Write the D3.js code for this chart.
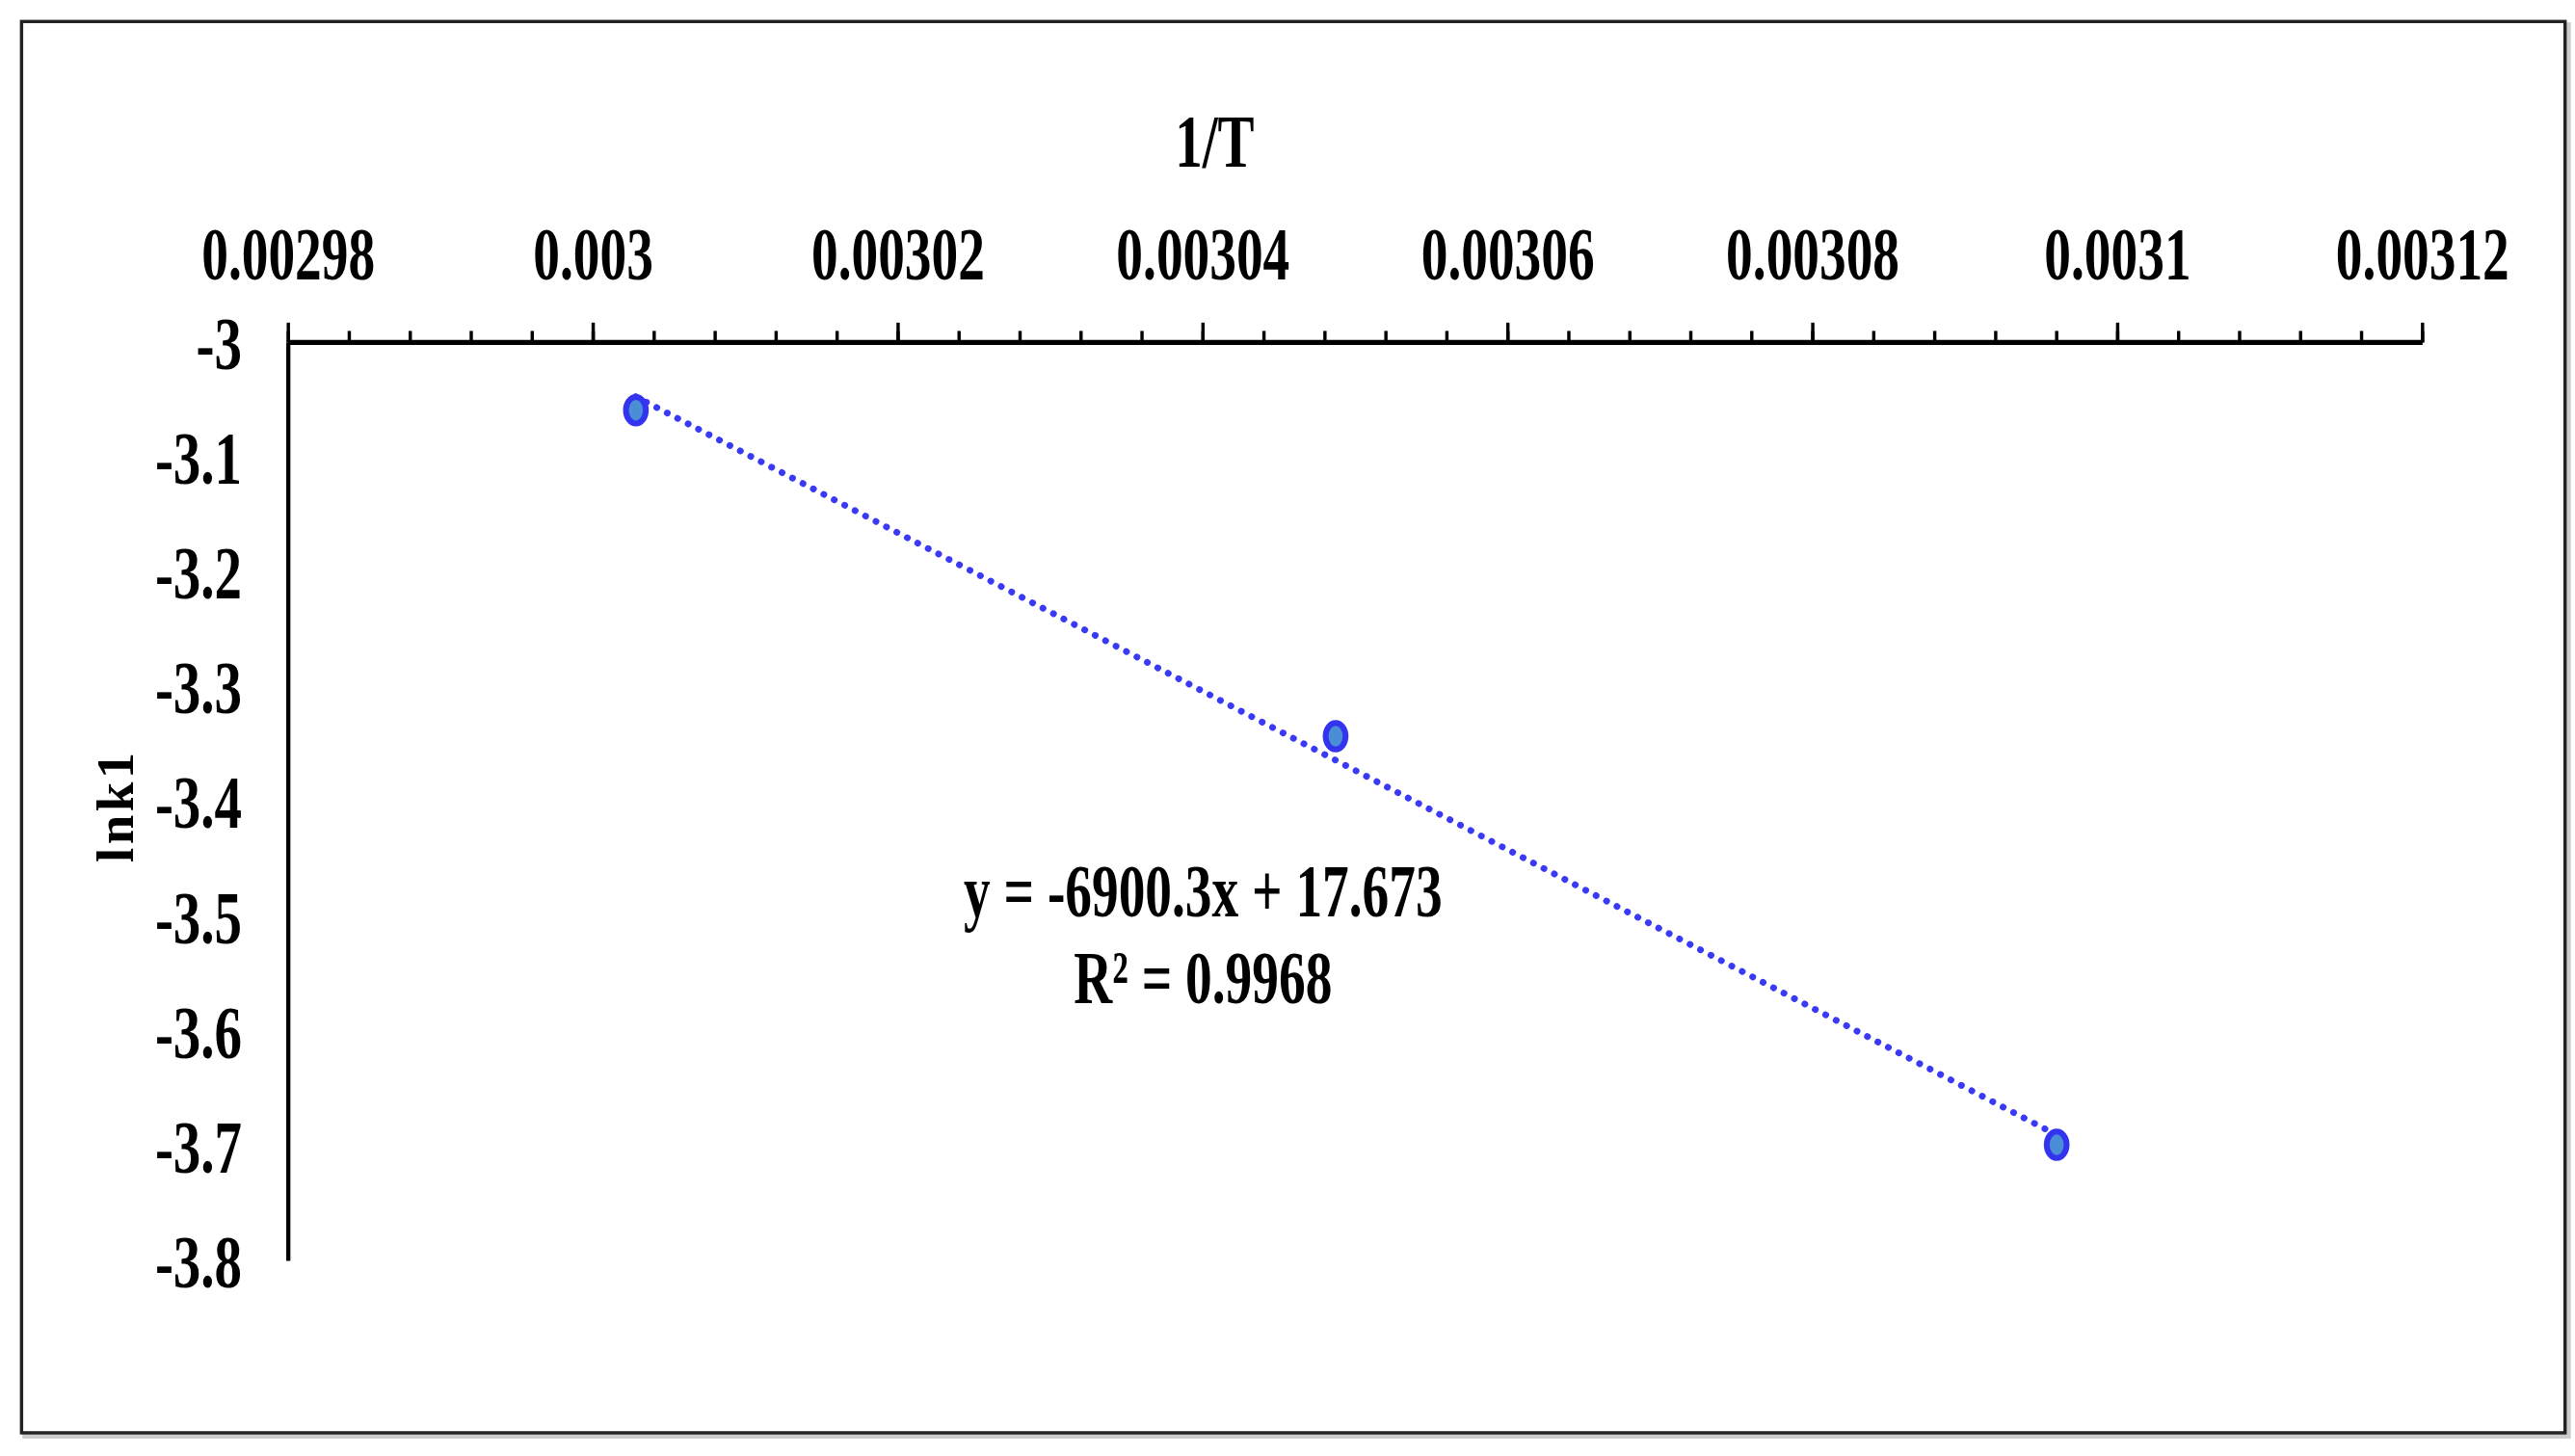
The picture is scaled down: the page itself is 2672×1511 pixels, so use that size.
<!DOCTYPE html>
<html>
<head>
<meta charset="utf-8">
<script src="https://cdn.jsdelivr.net/npm/d3@7"></script>
<style>
  body { margin: 0; background: #fff; }
  text { font-family: "Liberation Serif", "Times New Roman", serif; font-weight: bold; fill: #000; }
</style>
</head>
<body>
<svg id="chart" width="2672" height="1511" viewBox="0 0 1554 880" preserveAspectRatio="none"></svg>
<script>
// data
var invT = [0.0030028, 0.0030487, 0.003096];
var lnk1 = [-3.059, -3.343, -3.699];
var xTicks = [0.00298, 0.003, 0.00302, 0.00304, 0.00306, 0.00308, 0.0031, 0.00312];
var xTickLabels = ["0.00298", "0.003", "0.00302", "0.00304", "0.00306", "0.00308", "0.0031", "0.00312"];
var yTicks = [-3, -3.1, -3.2, -3.3, -3.4, -3.5, -3.6, -3.7, -3.8];
var slope = -6900.3, intercept = 17.673;
var eqLines = ["y = -6900.3x + 17.673", "R\u00b2 = 0.9968"];

var svg = d3.select("#chart");

// frame
svg.append("rect").attr("x", 15).attr("y", 15).attr("width", 1535).attr("height", 853)
	.attr("fill", "none").attr("stroke", "#ccc").attr("stroke-width", 3);
svg.append("rect").attr("x", 13).attr("y", 13).attr("width", 1535).attr("height", 853)
	.attr("fill", "#fff").attr("stroke", "#222").attr("stroke-width", 2);

var x = d3.scaleLinear().domain([0.00298, 0.00312]).range([174, 1462]);
var y = d3.scaleLinear().domain([-3, -3.8]).range([207, 762]);

function squashed(sel, px, py, sx) {
	sel.attr("transform", "translate(" + px + "," + py + ") scale(" + sx + ",1)");
}

// x axis along the top, ticks pointing up
svg.append("line").attr("x1", x(0.00298)).attr("x2", x(0.00312))
	.attr("y1", y(-3)).attr("y2", y(-3)).attr("stroke", "#000").attr("stroke-width", 3);
var minor = d3.range(0, 36).map(function (i) { return 0.00298 + i * 0.000004; });
svg.selectAll(".minor").data(minor).enter().append("line")
	.attr("x1", function (d) { return x(d); }).attr("x2", function (d) { return x(d); })
	.attr("y1", y(-3)).attr("y2", y(-3) - 7).attr("stroke", "#000").attr("stroke-width", 2);
svg.selectAll(".major").data(xTicks).enter().append("line")
	.attr("x1", function (d) { return x(d); }).attr("x2", function (d) { return x(d); })
	.attr("y1", y(-3)).attr("y2", y(-3) - 12).attr("stroke", "#000").attr("stroke-width", 2);
svg.selectAll(".xlab").data(xTicks).enter().append("text")
	.attr("text-anchor", "middle").attr("font-size", 46)
	.each(function (d) { squashed(d3.select(this), x(d), 169, 0.7); })
	.text(function (d, i) { return xTickLabels[i]; });

// y axis
svg.append("line").attr("x1", 174).attr("x2", 174)
	.attr("y1", y(-3)).attr("y2", y(-3.8)).attr("stroke", "#000").attr("stroke-width", 2.5);
svg.selectAll(".ylab").data(yTicks).enter().append("text")
	.attr("text-anchor", "end").attr("font-size", 46)
	.each(function (d) { squashed(d3.select(this), 146, y(d) + 16, 0.72); })
	.text(function (d) { return d; });

// axis titles
svg.append("text").attr("text-anchor", "middle").attr("font-size", 46)
	.call(squashed, 733, 101, 0.72).text("1/T");
svg.append("text").attr("text-anchor", "middle").attr("font-size", 32)
	.attr("letter-spacing", 2)
	.attr("transform", "translate(80,487) rotate(-90)").text("lnk1");

// trendline
var x0 = d3.min(invT), x1 = d3.max(invT);
svg.append("line")
	.attr("x1", x(x0)).attr("y1", y(slope * x0 + intercept))
	.attr("x2", x(x1)).attr("y2", y(slope * x1 + intercept))
	.attr("stroke", "#3a3af5").attr("stroke-width", 4)
	.attr("stroke-dasharray", "0.1 7").attr("stroke-linecap", "round");

// points
svg.selectAll(".pt").data(invT).enter().append("ellipse")
	.attr("cx", function (d) { return x(d); })
	.attr("cy", function (d, i) { return y(lnk1[i]); })
	.attr("rx", 6).attr("ry", 8)
	.attr("fill", "#4a8fd6").attr("stroke", "#3434f0").attr("stroke-width", 3.5);

// equation
svg.selectAll(".eq").data(eqLines).enter().append("text")
	.attr("text-anchor", "middle").attr("font-size", 46)
	.each(function (d, i) { squashed(d3.select(this), 726, 554 + i * 52, 0.7); })
	.text(function (d) { return d; });
</script>
</body>
</html>
